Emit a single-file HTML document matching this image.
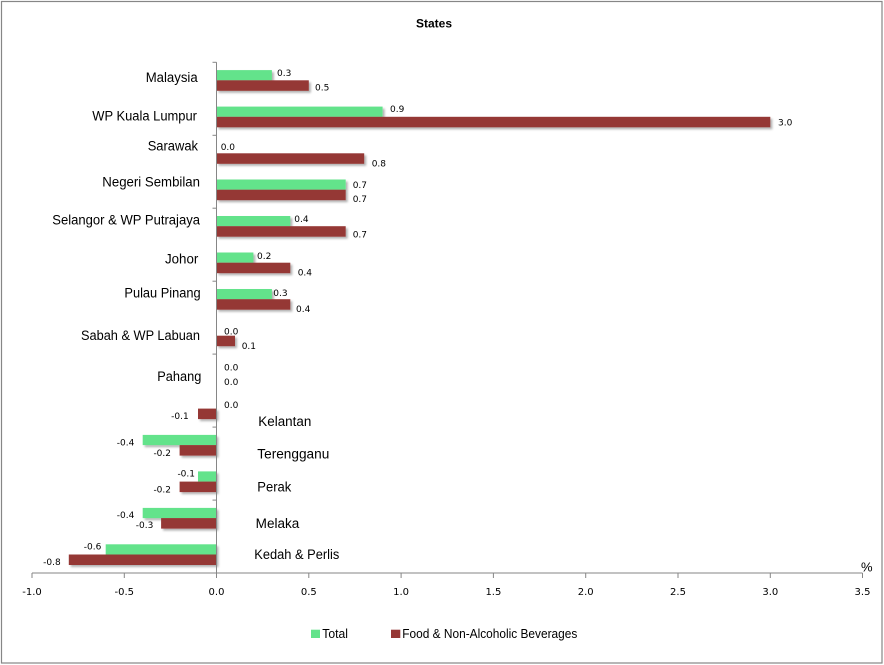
<!DOCTYPE html>
<html>
<head>
<meta charset="utf-8">
<style>
  html,body{margin:0;padding:0;background:#fff;}
  svg{display:block;}
  .cat{font-family:"Liberation Sans",Arial,sans-serif;font-size:13.5px;fill:#000;}
  .val{font-family:"DejaVu Sans","Liberation Sans",sans-serif;font-size:9px;fill:#000;}
  .tick{font-family:"DejaVu Sans","Liberation Sans",sans-serif;font-size:10px;fill:#000;}
  .leg{font-family:"Liberation Sans",Arial,sans-serif;font-size:12.5px;fill:#000;}
</style>
</head>
<body>
<svg width="884" height="665" viewBox="0 0 884 665" xmlns="http://www.w3.org/2000/svg">
  <defs>
    <filter id="sh" x="-5%" y="-30%" width="115%" height="180%">
      <feDropShadow dx="2" dy="2" stdDeviation="1" flood-color="#000" flood-opacity="0.3"/>
    </filter>
  </defs>
  <rect x="0" y="0" width="884" height="665" fill="#fff"/>
  <rect x="1.5" y="1.5" width="880.5" height="661.5" fill="none" stroke="#868686" stroke-width="1.2"/>

  <text x="434" y="27.7" text-anchor="middle" font-family="Liberation Sans, Arial, sans-serif" font-size="12" font-weight="bold">States</text>

  <!-- bars -->
  <g filter="url(#sh)">
    <g fill="#63E38B">
      <rect x="216.5" y="70.1" width="55.4" height="10.2"/>
      <rect x="216.5" y="106.6" width="166.1" height="10.2"/>
      <rect x="216.5" y="179.5" width="129.2" height="10.2"/>
      <rect x="216.5" y="216.0" width="73.8" height="10.2"/>
      <rect x="216.5" y="252.5" width="36.9" height="10.2"/>
      <rect x="216.5" y="289.0" width="55.4" height="10.2"/>
      <rect x="142.7" y="434.9" width="73.8" height="10.2"/>
      <rect x="198.0" y="471.4" width="18.5" height="10.2"/>
      <rect x="142.7" y="507.9" width="73.8" height="10.2"/>
      <rect x="105.7" y="544.3" width="110.8" height="10.2"/>
    </g>
    <g fill="#953735">
      <rect x="216.5" y="80.3" width="92.3" height="10.5"/>
      <rect x="216.5" y="116.8" width="553.8" height="10.5"/>
      <rect x="216.5" y="153.3" width="147.7" height="10.5"/>
      <rect x="216.5" y="189.7" width="129.2" height="10.5"/>
      <rect x="216.5" y="226.2" width="129.2" height="10.5"/>
      <rect x="216.5" y="262.7" width="73.8" height="10.5"/>
      <rect x="216.5" y="299.2" width="73.8" height="10.5"/>
      <rect x="216.5" y="335.7" width="18.5" height="10.5"/>
      <rect x="198.0" y="408.6" width="18.5" height="10.5"/>
      <rect x="179.6" y="445.1" width="36.9" height="10.5"/>
      <rect x="179.6" y="481.6" width="36.9" height="10.5"/>
      <rect x="161.1" y="518.1" width="55.4" height="10.5"/>
      <rect x="68.8" y="554.5" width="147.7" height="10.5"/>
    </g>
  </g>

  <!-- axes -->
  <g stroke="#868686" stroke-width="1" fill="none">
    <line x1="216.5" y1="62.3" x2="216.5" y2="573"/>
    <line x1="32" y1="573" x2="862.5" y2="573"/>
    <!-- x ticks -->
    <line x1="32" y1="573" x2="32" y2="578"/>
    <line x1="124.3" y1="573" x2="124.3" y2="578"/>
    <line x1="216.5" y1="573" x2="216.5" y2="578"/>
    <line x1="308.8" y1="573" x2="308.8" y2="578"/>
    <line x1="401.1" y1="573" x2="401.1" y2="578"/>
    <line x1="493.4" y1="573" x2="493.4" y2="578"/>
    <line x1="585.7" y1="573" x2="585.7" y2="578"/>
    <line x1="678" y1="573" x2="678" y2="578"/>
    <line x1="770.3" y1="573" x2="770.3" y2="578"/>
    <line x1="862.5" y1="573" x2="862.5" y2="578"/>
    <!-- y ticks -->
    <line x1="212.5" y1="62.3" x2="216.5" y2="62.3"/>
    <line x1="212.5" y1="135.3" x2="216.5" y2="135.3"/>
    <line x1="212.5" y1="208.2" x2="216.5" y2="208.2"/>
    <line x1="212.5" y1="281.2" x2="216.5" y2="281.2"/>
    <line x1="212.5" y1="354.1" x2="216.5" y2="354.1"/>
    <line x1="212.5" y1="427.1" x2="216.5" y2="427.1"/>
    <line x1="212.5" y1="500.1" x2="216.5" y2="500.1"/>
  </g>

  <!-- x tick labels -->
  <g class="tick" text-anchor="middle">
    <text x="32" y="595">-1.0</text>
    <text x="124.3" y="595">-0.5</text>
    <text x="216.5" y="595">0.0</text>
    <text x="308.8" y="595">0.5</text>
    <text x="401.1" y="595">1.0</text>
    <text x="493.4" y="595">1.5</text>
    <text x="585.7" y="595">2.0</text>
    <text x="678" y="595">2.5</text>
    <text x="770.3" y="595">3.0</text>
    <text x="862.5" y="595">3.5</text>
  </g>
  <text x="861" y="571.5" font-family="Liberation Sans, Arial, sans-serif" font-size="13" fill="#000">%</text>

  <!-- category labels -->
  <g class="cat" text-anchor="end">
    <text x="197.7" y="82" textLength="52" lengthAdjust="spacingAndGlyphs">Malaysia</text>
    <text x="197" y="120.6" textLength="104.7" lengthAdjust="spacingAndGlyphs">WP Kuala Lumpur</text>
    <text x="198" y="150.3" textLength="50.3" lengthAdjust="spacingAndGlyphs">Sarawak</text>
    <text x="200" y="186.3" textLength="97.7" lengthAdjust="spacingAndGlyphs">Negeri Sembilan</text>
    <text x="200" y="224.3" textLength="147.7" lengthAdjust="spacingAndGlyphs">Selangor &amp; WP Putrajaya</text>
    <text x="198.3" y="263.6" textLength="33.3" lengthAdjust="spacingAndGlyphs">Johor</text>
    <text x="200.7" y="297.7" textLength="76.3" lengthAdjust="spacingAndGlyphs">Pulau Pinang</text>
    <text x="200" y="340" textLength="119" lengthAdjust="spacingAndGlyphs">Sabah &amp; WP Labuan</text>
    <text x="201.3" y="381" textLength="44" lengthAdjust="spacingAndGlyphs">Pahang</text>
  </g>
  <g class="cat" text-anchor="start">
    <text x="258.3" y="426" textLength="53" lengthAdjust="spacingAndGlyphs">Kelantan</text>
    <text x="257.3" y="458.3" textLength="72" lengthAdjust="spacingAndGlyphs">Terengganu</text>
    <text x="257.3" y="491.3" textLength="34" lengthAdjust="spacingAndGlyphs">Perak</text>
    <text x="255.7" y="528" textLength="43.6" lengthAdjust="spacingAndGlyphs">Melaka</text>
    <text x="254.3" y="559" textLength="85" lengthAdjust="spacingAndGlyphs">Kedah &amp; Perlis</text>
  </g>

  <!-- value labels -->
  <g class="val" text-anchor="start">
    <text x="277" y="76">0.3</text>
    <text x="315" y="90.3">0.5</text>
    <text x="390" y="112">0.9</text>
    <text x="778" y="125.6">3.0</text>
    <text x="220.7" y="150">0.0</text>
    <text x="371.7" y="166.6">0.8</text>
    <text x="352.7" y="188">0.7</text>
    <text x="352.7" y="202">0.7</text>
    <text x="294.3" y="222">0.4</text>
    <text x="352.7" y="237.6">0.7</text>
    <text x="257" y="259">0.2</text>
    <text x="297.7" y="275.6">0.4</text>
    <text x="273.3" y="296">0.3</text>
    <text x="296" y="312">0.4</text>
    <text x="224" y="334.3">0.0</text>
    <text x="241.7" y="349">0.1</text>
    <text x="224" y="370.6">0.0</text>
    <text x="224" y="385">0.0</text>
    <text x="224" y="408">0.0</text>
  </g>
  <g class="val" text-anchor="end">
    <text x="188.7" y="419">-0.1</text>
    <text x="134.3" y="445.3">-0.4</text>
    <text x="171" y="456">-0.2</text>
    <text x="195" y="476.6">-0.1</text>
    <text x="171" y="492.3">-0.2</text>
    <text x="134.3" y="518">-0.4</text>
    <text x="153.3" y="528">-0.3</text>
    <text x="101.3" y="549.6">-0.6</text>
    <text x="60.7" y="565">-0.8</text>
  </g>

  <!-- legend -->
  <rect x="311" y="629.7" width="9" height="8.3" fill="#63E38B"/>
  <text class="leg" x="322.3" y="638" textLength="25.7" lengthAdjust="spacingAndGlyphs">Total</text>
  <rect x="391" y="629.7" width="9.3" height="8.3" fill="#953735"/>
  <text class="leg" x="402.3" y="638" textLength="175" lengthAdjust="spacingAndGlyphs">Food &amp; Non-Alcoholic Beverages</text>
</svg>
</body>
</html>
